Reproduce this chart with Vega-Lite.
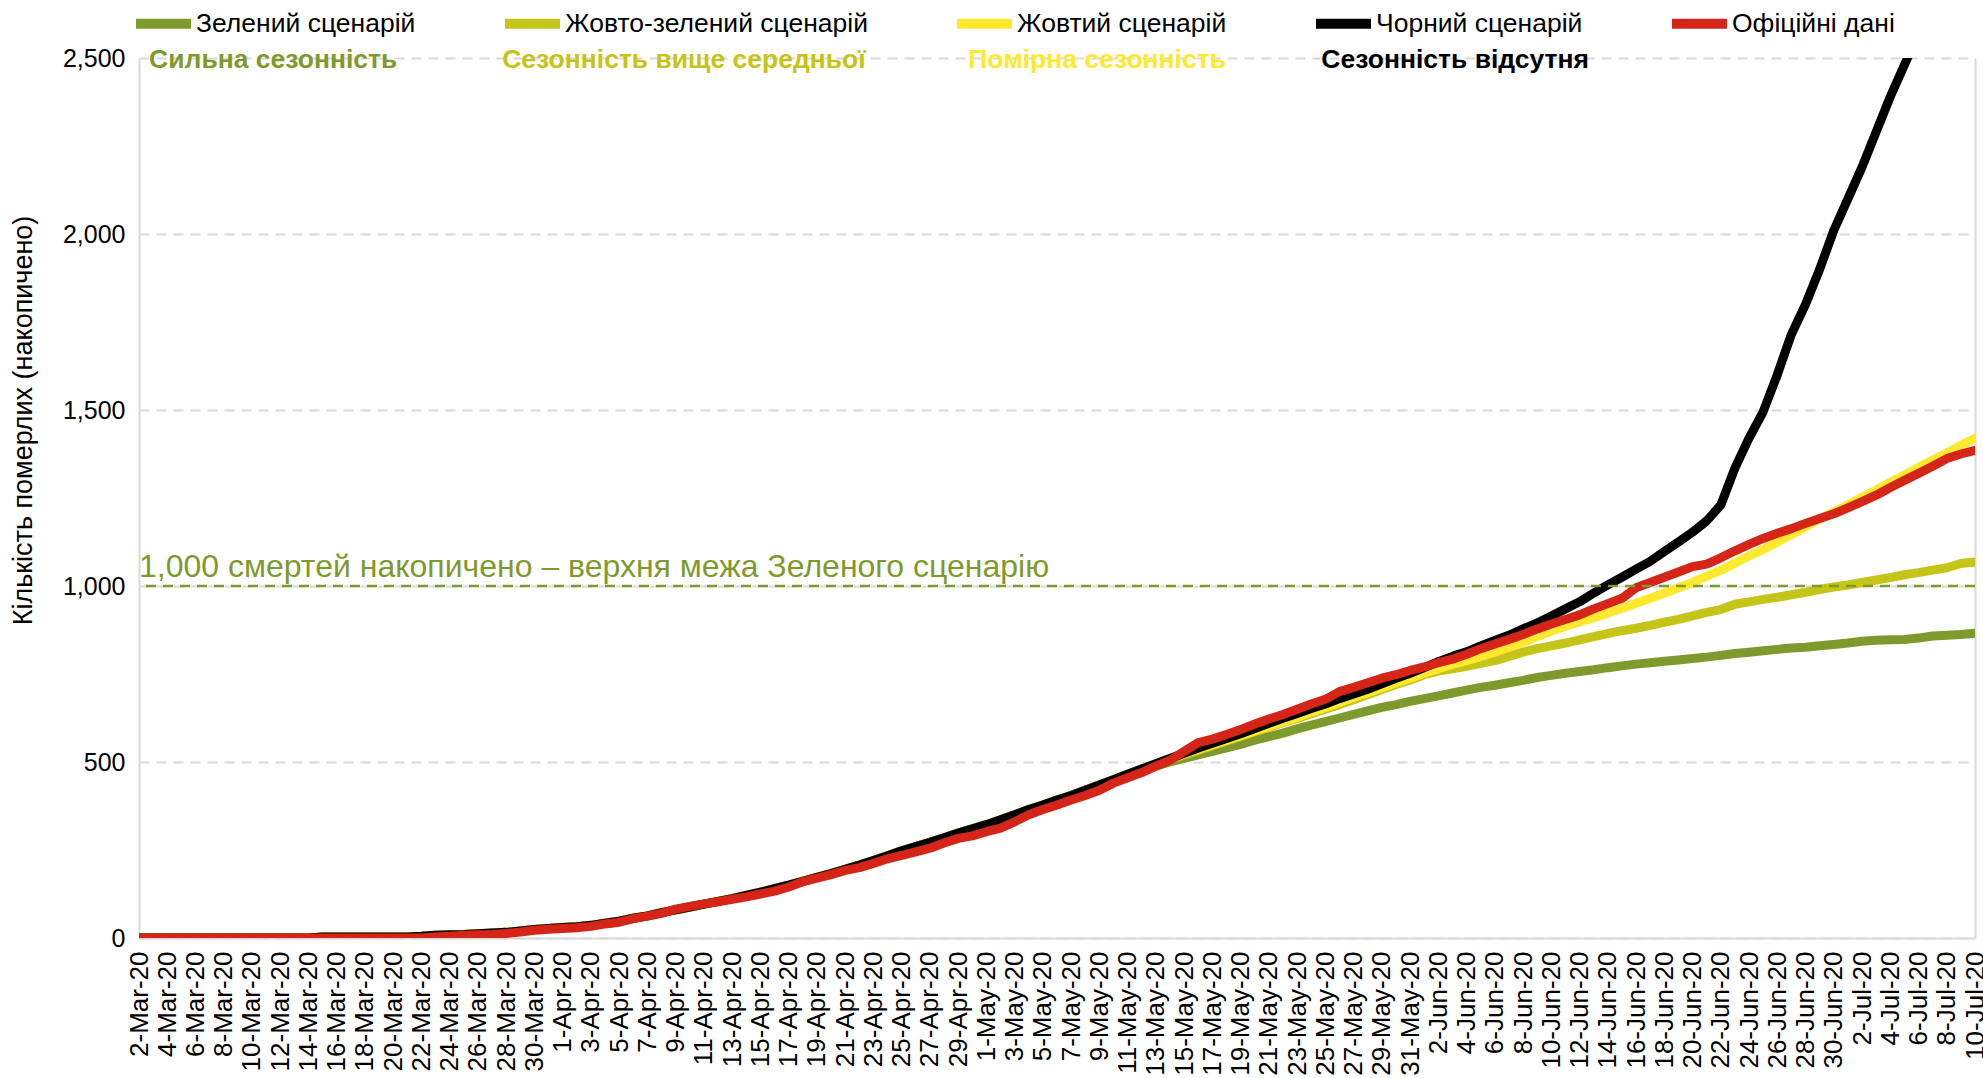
{
"$schema":"https://vega.github.io/schema/vega-lite/v6.json",
"width":1836,"height":880,
"autosize":{"type":"none"},
"padding":{"left":139,"top":58,"right":8,"bottom":140},
"background":"white",
"config":{"font":"Liberation Sans","view":{"stroke":null}},
"datasets":{
"series":[
{"d":"2-Mar-20","g":0,"w":0,"y":0,"b":0,"r":0},
{"d":"3-Mar-20","g":0,"w":0,"y":0,"b":0,"r":0},
{"d":"4-Mar-20","g":0,"w":0,"y":0,"b":0,"r":0},
{"d":"5-Mar-20","g":0,"w":0,"y":0,"b":0,"r":0},
{"d":"6-Mar-20","g":0,"w":0,"y":0,"b":0,"r":0},
{"d":"7-Mar-20","g":0,"w":0,"y":0,"b":0,"r":0},
{"d":"8-Mar-20","g":0,"w":0,"y":0,"b":0,"r":0},
{"d":"9-Mar-20","g":0,"w":0,"y":0,"b":0,"r":0},
{"d":"10-Mar-20","g":0,"w":0,"y":0,"b":0,"r":0},
{"d":"11-Mar-20","g":0,"w":0,"y":0,"b":0,"r":0},
{"d":"12-Mar-20","g":0,"w":0,"y":0,"b":0,"r":0},
{"d":"13-Mar-20","g":0,"w":0,"y":0,"b":0,"r":0},
{"d":"14-Mar-20","g":0,"w":0,"y":0,"b":0,"r":0},
{"d":"15-Mar-20","g":3,"w":3,"y":3,"b":3,"r":0},
{"d":"16-Mar-20","g":3,"w":3,"y":3,"b":3,"r":0},
{"d":"17-Mar-20","g":3,"w":3,"y":3,"b":3,"r":0},
{"d":"18-Mar-20","g":3,"w":3,"y":3,"b":3,"r":0},
{"d":"19-Mar-20","g":3,"w":3,"y":3,"b":3,"r":0},
{"d":"20-Mar-20","g":3,"w":3,"y":3,"b":3,"r":0},
{"d":"21-Mar-20","g":3,"w":3,"y":3,"b":3,"r":0},
{"d":"22-Mar-20","g":5,"w":5,"y":5,"b":5,"r":0},
{"d":"23-Mar-20","g":8,"w":8,"y":8,"b":8,"r":3},
{"d":"24-Mar-20","g":9,"w":9,"y":9,"b":9,"r":5},
{"d":"25-Mar-20","g":10,"w":10,"y":10,"b":10,"r":8},
{"d":"26-Mar-20","g":12,"w":12,"y":12,"b":12,"r":9},
{"d":"27-Mar-20","g":14,"w":14,"y":14,"b":14,"r":10},
{"d":"28-Mar-20","g":16,"w":16,"y":16,"b":16,"r":13},
{"d":"29-Mar-20","g":20,"w":20,"y":20,"b":20,"r":17},
{"d":"30-Mar-20","g":24,"w":24,"y":24,"b":24,"r":22},
{"d":"31-Mar-20","g":27,"w":27,"y":27,"b":27,"r":25},
{"d":"1-Apr-20","g":30,"w":30,"y":30,"b":30,"r":27},
{"d":"2-Apr-20","g":32,"w":32,"y":32,"b":32,"r":29},
{"d":"3-Apr-20","g":36,"w":36,"y":36,"b":36,"r":33},
{"d":"4-Apr-20","g":42,"w":42,"y":42,"b":42,"r":40},
{"d":"5-Apr-20","g":48,"w":48,"y":48,"b":48,"r":45},
{"d":"6-Apr-20","g":56,"w":56,"y":56,"b":56,"r":55},
{"d":"7-Apr-20","g":63,"w":63,"y":63,"b":63,"r":62},
{"d":"8-Apr-20","g":72,"w":72,"y":72,"b":72,"r":70},
{"d":"9-Apr-20","g":80,"w":80,"y":80,"b":80,"r":82},
{"d":"10-Apr-20","g":88,"w":88,"y":88,"b":88,"r":90},
{"d":"11-Apr-20","g":96,"w":96,"y":96,"b":96,"r":97},
{"d":"12-Apr-20","g":104,"w":104,"y":104,"b":104,"r":103},
{"d":"13-Apr-20","g":112,"w":112,"y":112,"b":112,"r":110},
{"d":"14-Apr-20","g":121,"w":121,"y":121,"b":121,"r":117},
{"d":"15-Apr-20","g":130,"w":130,"y":130,"b":130,"r":125},
{"d":"16-Apr-20","g":140,"w":140,"y":140,"b":140,"r":133},
{"d":"17-Apr-20","g":150,"w":150,"y":150,"b":150,"r":145},
{"d":"18-Apr-20","g":161,"w":161,"y":161,"b":161,"r":160},
{"d":"19-Apr-20","g":172,"w":172,"y":172,"b":172,"r":170},
{"d":"20-Apr-20","g":183,"w":183,"y":183,"b":183,"r":180},
{"d":"21-Apr-20","g":195,"w":195,"y":195,"b":195,"r":192},
{"d":"22-Apr-20","g":207,"w":207,"y":207,"b":207,"r":200},
{"d":"23-Apr-20","g":220,"w":220,"y":220,"b":220,"r":212},
{"d":"24-Apr-20","g":234,"w":234,"y":234,"b":234,"r":225},
{"d":"25-Apr-20","g":248,"w":248,"y":248,"b":248,"r":235},
{"d":"26-Apr-20","g":260,"w":260,"y":260,"b":260,"r":245},
{"d":"27-Apr-20","g":272,"w":272,"y":272,"b":272,"r":255},
{"d":"28-Apr-20","g":285,"w":285,"y":285,"b":285,"r":270},
{"d":"29-Apr-20","g":298,"w":298,"y":298,"b":298,"r":283},
{"d":"30-Apr-20","g":310,"w":310,"y":310,"b":310,"r":290},
{"d":"1-May-20","g":322,"w":322,"y":322,"b":322,"r":302},
{"d":"2-May-20","g":336,"w":336,"y":336,"b":336,"r":312},
{"d":"3-May-20","g":350,"w":350,"y":350,"b":350,"r":330},
{"d":"4-May-20","g":365,"w":365,"y":365,"b":365,"r":350},
{"d":"5-May-20","g":378,"w":378,"y":378,"b":378,"r":365},
{"d":"6-May-20","g":392,"w":392,"y":392,"b":392,"r":378},
{"d":"7-May-20","g":405,"w":405,"y":405,"b":405,"r":392},
{"d":"8-May-20","g":420,"w":420,"y":420,"b":420,"r":405},
{"d":"9-May-20","g":435,"w":435,"y":435,"b":435,"r":420},
{"d":"10-May-20","g":450,"w":450,"y":450,"b":450,"r":440},
{"d":"11-May-20","g":462,"w":465,"y":465,"b":465,"r":455},
{"d":"12-May-20","g":475,"w":480,"y":480,"b":480,"r":470},
{"d":"13-May-20","g":488,"w":494,"y":495,"b":495,"r":488},
{"d":"14-May-20","g":500,"w":508,"y":510,"b":510,"r":505},
{"d":"15-May-20","g":510,"w":520,"y":523,"b":525,"r":530},
{"d":"16-May-20","g":520,"w":533,"y":536,"b":540,"r":555},
{"d":"17-May-20","g":530,"w":546,"y":549,"b":553,"r":565},
{"d":"18-May-20","g":540,"w":560,"y":562,"b":567,"r":578},
{"d":"19-May-20","g":550,"w":573,"y":575,"b":580,"r":592},
{"d":"20-May-20","g":562,"w":586,"y":588,"b":595,"r":608},
{"d":"21-May-20","g":572,"w":598,"y":601,"b":610,"r":622},
{"d":"22-May-20","g":582,"w":612,"y":614,"b":624,"r":635},
{"d":"23-May-20","g":594,"w":624,"y":627,"b":638,"r":650},
{"d":"24-May-20","g":605,"w":637,"y":641,"b":652,"r":665},
{"d":"25-May-20","g":615,"w":650,"y":655,"b":665,"r":678},
{"d":"26-May-20","g":625,"w":663,"y":669,"b":680,"r":700},
{"d":"27-May-20","g":635,"w":677,"y":683,"b":693,"r":712},
{"d":"28-May-20","g":645,"w":692,"y":697,"b":707,"r":725},
{"d":"29-May-20","g":655,"w":706,"y":711,"b":722,"r":738},
{"d":"30-May-20","g":663,"w":720,"y":725,"b":738,"r":748},
{"d":"31-May-20","g":672,"w":733,"y":738,"b":752,"r":760},
{"d":"1-Jun-20","g":680,"w":748,"y":752,"b":768,"r":770},
{"d":"2-Jun-20","g":688,"w":758,"y":765,"b":785,"r":782},
{"d":"3-Jun-20","g":696,"w":765,"y":777,"b":800,"r":792},
{"d":"4-Jun-20","g":704,"w":772,"y":788,"b":813,"r":806},
{"d":"5-Jun-20","g":712,"w":780,"y":800,"b":830,"r":822},
{"d":"6-Jun-20","g":718,"w":788,"y":812,"b":845,"r":835},
{"d":"7-Jun-20","g":725,"w":800,"y":826,"b":860,"r":848},
{"d":"8-Jun-20","g":732,"w":812,"y":840,"b":878,"r":862},
{"d":"9-Jun-20","g":740,"w":822,"y":856,"b":895,"r":878},
{"d":"10-Jun-20","g":746,"w":830,"y":872,"b":915,"r":892},
{"d":"11-Jun-20","g":752,"w":838,"y":886,"b":935,"r":905},
{"d":"12-Jun-20","g":757,"w":847,"y":898,"b":955,"r":918},
{"d":"13-Jun-20","g":762,"w":856,"y":910,"b":980,"r":935},
{"d":"14-Jun-20","g":768,"w":865,"y":923,"b":1003,"r":950},
{"d":"15-Jun-20","g":773,"w":873,"y":937,"b":1025,"r":965},
{"d":"16-Jun-20","g":778,"w":880,"y":951,"b":1048,"r":995},
{"d":"17-Jun-20","g":782,"w":888,"y":965,"b":1070,"r":1010},
{"d":"18-Jun-20","g":786,"w":897,"y":980,"b":1098,"r":1025},
{"d":"19-Jun-20","g":790,"w":905,"y":995,"b":1125,"r":1040},
{"d":"20-Jun-20","g":794,"w":915,"y":1010,"b":1153,"r":1055},
{"d":"21-Jun-20","g":798,"w":925,"y":1028,"b":1185,"r":1062},
{"d":"22-Jun-20","g":803,"w":933,"y":1045,"b":1230,"r":1080},
{"d":"23-Jun-20","g":808,"w":948,"y":1065,"b":1335,"r":1100},
{"d":"24-Jun-20","g":812,"w":955,"y":1085,"b":1420,"r":1118},
{"d":"25-Jun-20","g":816,"w":962,"y":1104,"b":1495,"r":1135},
{"d":"26-Jun-20","g":820,"w":968,"y":1125,"b":1600,"r":1150},
{"d":"27-Jun-20","g":824,"w":975,"y":1146,"b":1715,"r":1163},
{"d":"28-Jun-20","g":826,"w":982,"y":1168,"b":1800,"r":1178},
{"d":"29-Jun-20","g":830,"w":990,"y":1190,"b":1900,"r":1192},
{"d":"30-Jun-20","g":834,"w":997,"y":1210,"b":2010,"r":1205},
{"d":"1-Jul-20","g":838,"w":1003,"y":1230,"b":2100,"r":1222},
{"d":"2-Jul-20","g":843,"w":1010,"y":1252,"b":2190,"r":1240},
{"d":"3-Jul-20","g":846,"w":1017,"y":1273,"b":2290,"r":1258},
{"d":"4-Jul-20","g":847,"w":1024,"y":1295,"b":2390,"r":1280},
{"d":"5-Jul-20","g":848,"w":1032,"y":1315,"b":2480,"r":1300},
{"d":"6-Jul-20","g":852,"w":1038,"y":1337,"b":2570,"r":1320},
{"d":"7-Jul-20","g":858,"w":1045,"y":1358,"b":2660,"r":1340},
{"d":"8-Jul-20","g":860,"w":1052,"y":1378,"b":2760,"r":1362},
{"d":"9-Jul-20","g":862,"w":1064,"y":1400,"b":2860,"r":1375},
{"d":"10-Jul-20","g":866,"w":1068,"y":1420,"b":2960,"r":1385}
],
"subs":[
{"d":"3-Mar-20","v":2500,"t":"Сильна сезонність","k":"g"},
{"d":"28-Mar-20","v":2500,"t":"Сезонність вище середньої","k":"w"},
{"d":"30-Apr-20","v":2500,"t":"Помірна сезонність","k":"y"},
{"d":"25-May-20","v":2500,"t":"Сезонність відсутня","k":"b"}
],
"note":[{"d":"2-Mar-20","v":1000,"t":"1,000 смертей накопичено – верхня межа Зеленого сценарію"}]
},
"layer":[
{"data":{"name":"series"},
 "transform":[{"fold":["g","w","y","b","r"],"as":["k","v"]}],
 "mark":{"type":"line","strokeWidth":9,"clip":true,"strokeJoin":"round","strokeCap":"round"},
 "encoding":{
  "x":{"field":"d","type":"ordinal","sort":null,
   "scale":{"type":"point","padding":0,"domain":["2-Mar-20","3-Mar-20","4-Mar-20","5-Mar-20","6-Mar-20","7-Mar-20","8-Mar-20","9-Mar-20","10-Mar-20","11-Mar-20","12-Mar-20","13-Mar-20","14-Mar-20","15-Mar-20","16-Mar-20","17-Mar-20","18-Mar-20","19-Mar-20","20-Mar-20","21-Mar-20","22-Mar-20","23-Mar-20","24-Mar-20","25-Mar-20","26-Mar-20","27-Mar-20","28-Mar-20","29-Mar-20","30-Mar-20","31-Mar-20","1-Apr-20","2-Apr-20","3-Apr-20","4-Apr-20","5-Apr-20","6-Apr-20","7-Apr-20","8-Apr-20","9-Apr-20","10-Apr-20","11-Apr-20","12-Apr-20","13-Apr-20","14-Apr-20","15-Apr-20","16-Apr-20","17-Apr-20","18-Apr-20","19-Apr-20","20-Apr-20","21-Apr-20","22-Apr-20","23-Apr-20","24-Apr-20","25-Apr-20","26-Apr-20","27-Apr-20","28-Apr-20","29-Apr-20","30-Apr-20","1-May-20","2-May-20","3-May-20","4-May-20","5-May-20","6-May-20","7-May-20","8-May-20","9-May-20","10-May-20","11-May-20","12-May-20","13-May-20","14-May-20","15-May-20","16-May-20","17-May-20","18-May-20","19-May-20","20-May-20","21-May-20","22-May-20","23-May-20","24-May-20","25-May-20","26-May-20","27-May-20","28-May-20","29-May-20","30-May-20","31-May-20","1-Jun-20","2-Jun-20","3-Jun-20","4-Jun-20","5-Jun-20","6-Jun-20","7-Jun-20","8-Jun-20","9-Jun-20","10-Jun-20","11-Jun-20","12-Jun-20","13-Jun-20","14-Jun-20","15-Jun-20","16-Jun-20","17-Jun-20","18-Jun-20","19-Jun-20","20-Jun-20","21-Jun-20","22-Jun-20","23-Jun-20","24-Jun-20","25-Jun-20","26-Jun-20","27-Jun-20","28-Jun-20","29-Jun-20","30-Jun-20","1-Jul-20","2-Jul-20","3-Jul-20","4-Jul-20","5-Jul-20","6-Jul-20","7-Jul-20","8-Jul-20","9-Jul-20","10-Jul-20"]},
   "axis":{"values":["2-Mar-20","4-Mar-20","6-Mar-20","8-Mar-20","10-Mar-20","12-Mar-20","14-Mar-20","16-Mar-20","18-Mar-20","20-Mar-20","22-Mar-20","24-Mar-20","26-Mar-20","28-Mar-20","30-Mar-20","1-Apr-20","3-Apr-20","5-Apr-20","7-Apr-20","9-Apr-20","11-Apr-20","13-Apr-20","15-Apr-20","17-Apr-20","19-Apr-20","21-Apr-20","23-Apr-20","25-Apr-20","27-Apr-20","29-Apr-20","1-May-20","3-May-20","5-May-20","7-May-20","9-May-20","11-May-20","13-May-20","15-May-20","17-May-20","19-May-20","21-May-20","23-May-20","25-May-20","27-May-20","29-May-20","31-May-20","2-Jun-20","4-Jun-20","6-Jun-20","8-Jun-20","10-Jun-20","12-Jun-20","14-Jun-20","16-Jun-20","18-Jun-20","20-Jun-20","22-Jun-20","24-Jun-20","26-Jun-20","28-Jun-20","30-Jun-20","2-Jul-20","4-Jul-20","6-Jul-20","8-Jul-20","10-Jul-20"],
    "title":null,"labelAngle":270,"labelFontSize":26,"labelColor":"#000000","labelPadding":13,"ticks":false,"grid":false,"domain":true,"domainColor":"#d9d9d9","domainWidth":2,"labelOverlap":false}},
  "y":{"field":"v","type":"quantitative","scale":{"domain":[0,2500],"nice":false},
   "axis":{"orient":"left","values":[0,500,1000,1500,2000,2500],"format":",.0f","grid":true,"gridColor":"#d9d9d9","gridDash":[10,7],"gridWidth":2,"domain":true,"domainColor":"#d9d9d9","domainWidth":2,"ticks":false,"labelFontSize":25,"labelColor":"#000000","labelPadding":14,
    "title":"Кількість померлих (накопичено)","titleFontSize":27,"titleFontWeight":"normal","titleColor":"#000000","titleX":-116,"titleY":362,"titleAngle":270,"titleAlign":"center","titleBaseline":"middle"}},
  "color":{"field":"k","type":"nominal","scale":{"domain":["g","w","y","b","r"],"range":["#7f9a2c","#c5c418","#ffe92e","#000000","#d52518"]},
   "legend":{"orient":"none","legendX":-8,"legendY":-67,"direction":"horizontal","columns":5,"title":null,"symbolType":"stroke","symbolStrokeWidth":10,"symbolSize":3025,"labelFontSize":26.5,"labelColor":"#000000","columnPadding":69,"labelOffset":0,"labelLimit":500,
    "labelExpr":"datum.label=='g'?'Зелений сценарій':datum.label=='w'?'Жовто-зелений сценарій':datum.label=='y'?'Жовтий сценарій':datum.label=='b'?'Чорний сценарій':'Офіційні дані'"}}
 }},
{"data":{"values":[{"v":1000}]},
 "mark":{"type":"rule","color":"#7f9a2c","strokeWidth":2.5,"strokeDash":[10,7]},
 "encoding":{"y":{"field":"v","type":"quantitative","axis":{"orient":"right","labels":false,"ticks":false,"grid":false,"domain":true,"domainColor":"#d9d9d9","domainWidth":2,"title":null}}}},
{"data":{"name":"note"},
 "mark":{"type":"text","align":"left","baseline":"alphabetic","dy":-9,"dx":0,"fontSize":32,"color":"#7f9a2c"},
 "encoding":{"x":{"field":"d","type":"ordinal"},"y":{"field":"v","type":"quantitative","axis":null},"text":{"field":"t"}}},
{"data":{"name":"subs"},
 "mark":{"type":"text","align":"left","baseline":"middle","dy":2,"dx":-4,"fontSize":26.5,"fontWeight":"bold"},
 "encoding":{"x":{"field":"d","type":"ordinal"},"y":{"field":"v","type":"quantitative","axis":null},"text":{"field":"t"},
  "color":{"field":"k","type":"nominal","scale":{"domain":["g","w","y","b"],"range":["#7f9a2c","#c5c418","#ffe92e","#000000"]},"legend":null}}}
],
"resolve":{"scale":{"color":"independent"},"axis":{"y":"independent"}}
}
